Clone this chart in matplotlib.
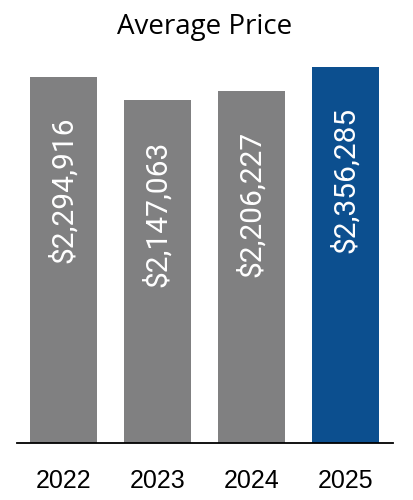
import matplotlib
matplotlib.use("Agg")
import matplotlib.pyplot as plt

# data
years = ['2022', '2023', '2024', '2025']
prices = [2294916, 2147063, 2206227, 2356285]
bar_colors = ['#808081', '#808081', '#808081', '#0c4f8f']

fig = plt.figure(figsize=(4.14, 5.0), dpi=100)
ax = fig.add_axes([17 / 414, 57 / 500, 376 / 414, 376 / 500])

x = range(len(years))
ax.bar(x, prices, width=0.713, color=bar_colors, zorder=2)

# value labels inside the bars, rotated
for i, v in enumerate(prices):
    ax.text(i, v - 710000, f'${v:,}', rotation=90, ha='center', va='center',
            color='white', fontsize=21.5, family='Roboto')

ax.set_xlim(-0.495, 3.505)
ax.set_ylim(0, max(prices))
ax.set_xticks(list(x))
ax.set_xticklabels(years, fontsize=18, family='Liberation Sans')
ax.tick_params(axis='x', length=0, pad=19)
ax.set_yticks([])

for side in ['top', 'right', 'left']:
    ax.spines[side].set_visible(False)
ax.spines['bottom'].set_linewidth(1.3)
ax.spines['bottom'].set_zorder(3)

fig.text(0.495, 0.946, 'Average Price', ha='center', va='center',
         fontsize=20, family='Open Sans')

fig.savefig('out.png', dpi=100)
